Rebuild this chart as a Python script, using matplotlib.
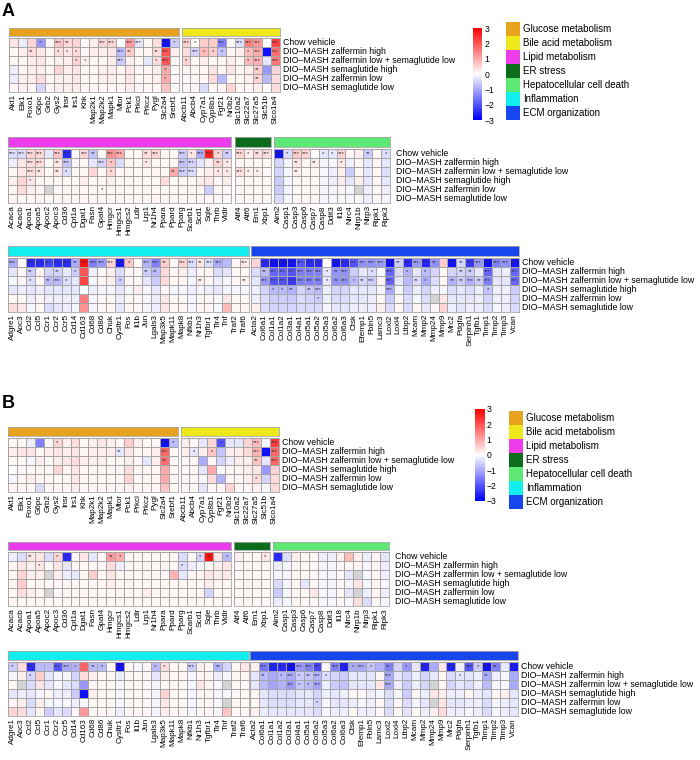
import numpy as np
import matplotlib
matplotlib.use("Agg")
import matplotlib.pyplot as plt
from matplotlib.colors import LinearSegmentedColormap
from matplotlib.patches import Rectangle

plt.rcParams['font.family'] = ['Liberation Sans', 'DejaVu Sans']
nan = np.nan

# ---- labels ----
rows = ["Chow vehicle", "DIO\u2013MASH zalfermin high",
        "DIO\u2013MASH zalfermin low + semaglutide low",
        "DIO\u2013MASH semaglutide high", "DIO\u2013MASH zalfermin low",
        "DIO\u2013MASH semaglutide low"]

glucose_genes = ["Akt1", "Elk1", "Foxo1", "G6pc", "Grb2", "Gys2", "Insr", "Irs1", "Khk", "Map2k1",
                 "Map2k2", "Mapk1", "Mtor", "Pck1", "Prkci", "Prkcz", "Pygl", "Slc2a4", "Srebf1"]
bile_genes = ["Abcb11", "Abcb4", "Cyp7a1", "Cyp8b1", "Fgf21", "Nr0b2", "Slc10a2", "Slc22a7",
              "Slc27a5", "Slc51b", "Slco1a4"]
lipid_genes = ["Acaca", "Acacb", "Apoa1", "Apoa5", "Apoc2", "Apoc3", "Cd36", "Cpt1a", "Dgat1",
               "Fasn", "Gpat4", "Hmgcr", "Hmgcs1", "Hmgcs2", "Ldlr", "Lrp1", "Nr1h4", "Ppara",
               "Ppard", "Pparg", "Scarb1", "Scd1", "Sqle", "Thrb", "Vldlr"]
er_genes = ["Atf4", "Atf6", "Ern1", "Xbp1"]
hep_genes = ["Aim2", "Casp1", "Casp3", "Casp6", "Casp7", "Casp8", "Ddit3", "Il18", "Nlrc4",
             "Nlrp1b", "Nlrp3", "Ripk1", "Ripk3"]
inflam_genes = ["Adgre1", "Aoc3", "Ccl2", "Ccl5", "Ccr1", "Ccr2", "Ccr5", "Cd14", "Cd163", "Cd68",
                "Cd86", "Chuk", "Cysltr1", "Fos", "Il1b", "Jun", "Lgals3", "Map3k5", "Mapk11",
                "Mapk8", "Nfkb1", "Nr1h3", "Tgfbr1", "Tlr4", "Tnf", "Traf2", "Traf6"]
ecm_genes = ["Acta2", "Col6a1", "Col1a1", "Col1a2", "Col3a1", "Col4a1", "Col5a1", "Col5a2",
             "Col5a3", "Col6a2", "Col6a3", "Ctsk", "Efemp1", "Fbln5", "Lamc3", "Loxl2", "Loxl4",
             "Ltbp2", "Mcam", "Mmp2", "Mmp24", "Mmp9", "Mrc2", "Pdgfa", "Serpinh1", "Tgfb1",
             "Timp1", "Timp2", "Timp3", "Vcan"]

categories = ["Glucose metabolism", "Bile acid metabolism", "Lipid metabolism", "ER stress",
              "Hepatocellular cell death", "Inflammation", "ECM organization"]
cat_colors = ["#E8A31E", "#EEE81A", "#EC3CEC", "#0D6B1C", "#5EE874", "#12EEEE", "#1746EE"]

# ---- panel A values (z-scores) ----
A_glucose = [
    [0.3, -0.2, 0.5, -1.2, 0.1, 0.7, 0.5, 0.5, 0.1, 0.2, 0.5, 0.5, 0.0, 1.2, -0.3, 0.1, 0.4, -2.8, -0.6],
    [0.1, 0.2, 0.4, 0.3, 0.1, 0.4, 0.3, 0.4, 0.1, 0.2, 0.2, 0.3, -0.8, 0.6, 0.1, 0.1, 0.4, 2.0, 0.2],
    [0.1, 0.1, 0.2, 0.3, 0.1, 0.2, 0.2, 0.5, 0.2, 0.1, 0.1, 0.2, -0.6, 0.2, 0.1, -0.3, 0.4, 2.0, 0.1],
    [-0.2, 0.1, 0.2, 0.2, 0.1, 0.5, 0.2, 0.3, 0.1, 0.1, 0.2, 0.2, 0.1, 0.3, 0.1, 0.1, 0.2, 1.0, 0.1],
    [-0.2, 0.2, 0.2, 0.4, 0.1, 0.2, 0.2, 0.3, 0.1, 0.1, 0.2, 0.2, 0.1, 0.3, 0.1, 0.1, 0.2, 1.0, 0.1],
    [0.1, 0.2, 0.1, -0.5, 0.1, 0.2, 0.2, 0.2, 0.1, 0.1, 0.1, 0.1, 0.1, 0.2, 0.1, 0.1, 0.1, 0.7, 0.1],
]
A_glucose_sig = [
    ". . . * . *** ** . . . *** *** . *** *** . . *** *",
    ". . ** . . * * * . . . . *** ** . . ** *** .",
    ". . . . . . . * * . . . *** . . . * *** .",
    ". . . . . . . . . . . . . . . . . * .",
    ". . . . . . . . . . . . . . . . . * .",
    ". . . . . . . . . . . . . . . . . . .",
]
A_bile = [
    [0.6, 0.05, 0.6, 0.6, -1.5, 0.1, -0.4, 1.5, 1.2, 0.05, 2.2],
    [0.4, -0.5, 0.8, 0.6, -0.7, 0.1, 0.2, 0.8, 1.0, -2.8, 1.7],
    [0.5, 0.1, 0.2, 0.1, 0.1, 0.2, 0.1, 0.8, 0.9, -0.3, 1.6],
    [0.1, 0.1, 0.1, 0.3, 0.1, 0.3, 0.1, 0.2, 0.6, -1.2, 0.5],
    [0.1, 0.1, 0.1, 0.4, -0.8, 0.1, 0.1, 0.2, 0.5, -0.8, 0.4],
    [0.1, 0.1, -0.4, 0.1, 0.1, 0.5, 0.1, 0.1, 0.2, 0.0, 0.4],
]
A_bile_sig = [
    "*** * . . *** . *** *** *** . ***",
    ". *** * * * . . * *** . ***",
    "* . . . . . . * *** . ***",
    ". . . . . . . . ** . .",
    ". . . . . . . . ** . .",
    ". . . . . . . . . . .",
]
A_lipid = [
    [-0.4, -0.4, 0.5, 0.5, -0.3, 0.7, -2.5, 0.1, 0.5, -0.7, 0.1, 1.3, 1.0, 0.1, 0.1, 0.4, 0.5, 0.1, 0.1, -0.6, 0.3, -1.0, 2.6, 0.5, -0.6],
    [-0.2, 0.3, 0.4, 0.4, 0.1, 0.3, -0.7, 0.1, 0.1, -0.3, -0.5, 0.7, -0.4, 0.1, 0.1, 0.3, 0.1, 0.1, 0.1, -0.7, -0.5, -0.3, 0.2, 0.5, 0.3],
    [0.1, 0.3, 0.4, 0.3, 0.1, 0.3, -0.4, 0.1, 0.1, 0.5, 0.1, 0.5, 0.1, 0.1, 0.1, 0.1, 0.1, 0.1, 1.0, -0.6, -0.4, 0.1, 0.2, 0.3, 0.3],
    [0.2, 0.5, 0.3, 0.1, 0.1, 0.1, 0.1, 0.1, 0.2, 0.1, 0.1, 0.2, 0.1, 0.1, 0.1, 0.1, 0.1, 0.4, 0.1, 0.1, 0.1, 0.2, 0.3, 0.1, 0.2],
    [0.1, 0.4, 0.2, 0.1, nan, 0.1, 0.1, 0.1, 0.1, 0.1, 0.1, 0.1, 0.1, 0.1, 0.1, 0.1, 0.1, 0.1, 0.1, 0.1, 0.1, 0.1, -0.6, 0.1, 0.1],
    [0.1, 0.1, 0.1, 0.1, 0.1, 0.1, 0.1, 0.1, 0.1, 0.1, 0.1, 0.1, 0.1, 0.1, 0.1, 0.1, 0.1, 0.1, 0.1, 0.1, 0.1, 0.1, 0.1, 0.1, 0.1],
]
A_lipid_sig = [
    "*** *** *** *** . *** *** . *** ** . *** *** . . ** *** . . *** * *** *** * **",
    ". . *** *** . ** *** . . . *** * . . . * . . . *** *** . . ** *",
    ". . *** ** . ** * . . . . * . . . . . . ** *** *** . . * *",
    ". . * . . . . . . . . . . . . . . . . . . . . . .",
    ". . . . . . . . . . * . . . . . . . . . . . . . .",
    ". . . . . . . . . . . . . . . . . . . . . . . . .",
]
A_er = [
    [0.5, 0.2, 0.4, 0.4],
    [0.1, 0.1, 0.1, 0.1],
    [0.4, 0.2, 0.2, 0.1],
    [0.1, 0.1, 0.1, 0.1],
    [0.1, 0.1, 0.1, 0.1],
    [0.1, 0.1, 0.1, 0.1],
]
A_er_sig = ["*** * ** ***", ". . . .", "*** * * .", ". . . .", ". . . .", ". . . ."]
A_hep = [
    [-2.8, -0.4, 0.6, 0.5, 0.0, -0.3, -0.3, 0.5, 0.1, 0.2, -0.6, 0.1, -0.4],
    [-0.5, -0.1, 0.3, 0.1, 0.2, -0.1, -0.1, 0.3, -0.2, 0.1, -0.3, 0.1, -0.3],
    [-0.5, -0.1, 0.2, 0.1, 0.1, -0.1, -0.2, 0.2, -0.6, 0.1, -0.3, 0.1, -0.4],
    [-0.6, -0.1, 0.1, 0.1, 0.1, -0.1, -0.2, 0.2, -0.3, 0.2, -0.3, 0.1, -0.3],
    [-0.6, -0.1, 0.1, 0.1, 0.1, -0.1, -0.1, 0.1, -0.1, nan, -0.2, 0.1, -0.2],
    [-0.4, -0.1, 0.1, 0.1, 0.1, -0.1, -0.1, 0.1, -0.1, 0.1, -0.2, 0.1, -0.1],
]
A_hep_sig = [
    "*** * *** *** . * * *** . . ** . *",
    ". . ** . ** . . * . . . . .",
    ". . ** . . . . . . . . . .",
    ". . . . . . . . . . . . .",
    ". . . . . . . . . . . . .",
    ". . . . . . . . . . . . .",
]
A_inflam = [
    [-1.0, 0.1, -2.5, -2.5, -2.2, -2.5, -2.5, -1.0, 2.8, -1.5, -1.2, 0.5, -2.7, 0.7, 0.1, -0.9, -1.5, 0.6, 0.1, 0.5, -0.4, 0.3, -0.4, -1.0, -0.8, 0.1, 0.3],
    [-0.3, 0.1, -0.6, 0.2, -0.5, -0.5, -0.3, -0.6, 2.0, -0.2, 0.1, 0.2, -0.4, 0.1, 0.1, -0.6, -0.8, 0.4, 0.1, 0.2, -0.2, 0.1, 0.1, -0.4, -0.3, 0.1, 0.1],
    [-0.1, 0.1, -0.4, 0.1, -0.8, -0.8, -0.4, -0.3, 2.2, -0.1, 0.1, 0.2, -0.6, 0.1, 0.1, -0.3, -0.6, 0.4, 0.1, 0.1, -0.1, 0.2, 0.1, -0.2, -0.1, 0.1, 0.2],
    [-0.3, -0.2, -0.3, -0.2, -0.3, -0.3, -0.3, -0.3, 0.0, -0.2, -0.1, -0.1, -0.3, -0.1, 0.2, -0.1, -0.3, 0.1, -0.1, -0.1, -0.2, -0.1, -0.2, -0.3, -0.1, -0.1, -0.1],
    [0.1, 0.1, -0.2, 0.1, -0.2, -0.2, -0.2, -0.2, 1.5, -0.1, 0.1, 0.1, -0.2, 0.1, 0.1, -0.1, -0.2, 0.3, 0.1, 0.1, -0.1, 0.1, 0.1, -0.1, 0.3, 0.1, 0.1],
    [0.4, 0.3, -0.1, 0.1, -0.4, -0.3, -0.2, -0.1, 1.3, -0.1, 0.1, 0.1, -0.3, 0.1, 0.1, -0.1, -0.2, 0.3, 0.1, 0.1, -0.1, 0.1, 0.1, -0.1, 0.8, 0.1, 0.1],
]
A_inflam_sig = [
    "*** . *** *** *** *** *** ** *** *** *** *** *** * . *** *** ** . *** *** ** *** *** . . ***",
    ". . ** . . ** . * . . . . . . . ** ** . . . . . . . . . .",
    ". . * . ** *** * . . . . . * . . . . . . . . ** . . . . **",
    ". . . . . . . . . . . . . . . . . . . . . . . . . . .",
    ". . . . . . . . . . . . . . . . . . . . . . . . . . .",
    ". . . . . . . . . . . . . . . . . . . . . . . . . . .",
]
A_ecm = [
    [0.5, -2.5, -2.8, -2.8, -2.8, -2.0, -2.5, -2.5, 0.0, -2.8, -2.5, -2.0, -1.3, -1.3, -1.2, -2.8, -0.6, -2.5, -1.2, -2.6, -1.3, 0.6, -2.8, -0.5, -2.3, -1.2, -2.8, -1.5, -1.3, -2.8],
    [-0.4, -0.8, -1.8, -1.8, -2.0, -1.5, -1.5, -1.5, -0.3, -1.3, -1.3, -0.6, -0.3, -0.4, -0.1, -1.8, -0.4, -0.9, -0.3, -0.8, -0.5, 0.1, -0.5, -0.5, -0.6, -0.3, -1.8, -0.3, -0.2, -1.8],
    [-0.3, -1.2, -2.0, -2.0, -2.3, -1.5, -1.5, -1.5, -0.3, -1.3, -1.3, -0.8, -0.5, -0.6, 0.15, -1.8, -0.3, -0.8, -0.4, -1.0, -0.4, 0.1, -0.9, -0.6, -0.9, -0.6, -1.5, -0.3, -0.3, -1.8],
    [-0.2, -0.5, -0.8, -0.8, -0.9, -0.5, -0.7, -0.8, -0.2, -0.5, -0.5, -0.3, -0.3, -0.3, -0.1, -1.0, -0.1, -0.6, -0.2, -0.5, -0.2, -0.1, -0.4, -0.3, -0.4, -0.2, -0.7, -0.2, -0.2, -0.6],
    [-0.2, -0.4, -0.6, -0.6, -0.6, -0.4, -0.5, -0.6, -0.2, -0.4, -0.4, -0.3, -0.3, -0.2, 0.1, -0.6, 0.1, -0.4, -0.1, -0.4, nan, 0.3, -0.3, -0.3, -0.3, -0.2, -0.5, -0.2, -0.2, -0.5],
    [0.2, -0.4, -0.5, -0.5, -0.5, -0.4, -0.4, -0.4, -0.1, -0.3, -0.3, -0.2, -0.2, -0.2, 0.2, -0.4, 0.1, -0.4, 0.1, -0.3, 0.1, 0.5, -0.2, -0.3, -0.2, -0.2, -0.4, -0.1, -0.2, -0.4],
]
A_ecm_sig = [
    ". *** *** *** *** *** *** *** . *** *** *** *** *** *** *** ** *** *** *** ** . *** ** *** *** *** *** *** ***",
    ". ** *** *** *** *** *** *** * ** *** . . * . *** . * . * . . . ** ** . *** . . ***",
    ". *** *** *** *** *** *** *** * ** *** * ** *** . *** . . ** * . . ** ** *** ** *** . . ***",
    ". . * * ** . ** *** . . . . . . . *** . . . . . . . . . . * . . .",
    ". . . . . . . * . . . . . . . . . . . . . . . . . . . . . .",
    ". . . . . . . . . . . . . . . . . . . . . . . . . . . . . .",
]

# ---- panel B values ----
B_glucose = [
    [0.1, 0.1, -0.2, -1.5, 0.1, 0.5, 0.2, 0.4, 0.1, 0.2, 0.3, 0.2, 0.1, 0.6, 0.2, 0.1, 0.1, -2.8, -0.8],
    [0.2, 0.3, 0.3, 0.1, 0.2, 0.3, 0.2, 0.3, 0.1, 0.2, 0.2, 0.2, -0.3, 0.3, 0.1, 0.1, 0.2, 1.8, 0.1],
    [0.1, 0.1, -0.1, 0.2, 0.1, 0.2, 0.3, 0.4, 0.2, 0.2, 0.2, 0.1, 0.1, 0.2, 0.1, -0.3, 0.2, 1.7, 0.1],
    [0.0, 0.1, 0.1, 0.1, 0.1, 0.5, 0.1, 0.3, 0.1, 0.1, 0.1, 0.1, 0.1, 0.4, 0.1, 0.1, 0.1, 1.0, 0.1],
    [-0.1, 0.1, 0.2, 0.1, 0.1, 0.1, 0.1, 0.3, 0.1, 0.1, 0.1, 0.1, 0.1, 0.5, 0.1, 0.1, 0.1, 1.0, 0.1],
    [0.1, 0.1, 0.1, -0.4, 0.1, 0.1, 0.1, 0.2, 0.1, 0.1, 0.1, 0.1, 0.1, 0.2, 0.1, 0.1, 0.1, 0.7, 0.1],
]
B_glucose_sig = [
    ". . . . . * . . . . . . . . . . . *** *",
    ". . . . . . . . . . . . ** . . . . *** .",
    ". . . . . . . . . . . . . . . . . ** .",
    ". . . . . . . . . . . . . . . . . . .",
    ". . . . . . . . . . . . . . . . . . .",
    ". . . . . . . . . . . . . . . . . . .",
]
B_bile = [
    [0.2, 0.1, -0.3, 0.5, -2.0, -0.3, -0.3, 0.5, 0.8, -0.1, 2.3],
    [0.2, -0.3, 0.2, 0.7, -0.7, 0.2, 0.2, 0.4, 0.9, -2.8, 1.8],
    [0.1, 0.1, -1.0, 0.1, -0.5, -0.2, 0.2, 0.2, 0.7, -0.3, 1.8],
    [0.1, 0.1, -0.3, 1.0, -0.1, 0.1, 0.1, 0.2, 0.3, -1.2, 0.5],
    [0.1, 0.1, -0.1, 0.4, -0.9, 0.1, 0.1, 0.2, 0.4, -0.5, 0.4],
    [0.1, 0.1, -0.3, 0.1, 0.1, 0.5, 0.1, 0.1, 0.2, -0.1, 0.4],
]
B_bile_sig = [
    ". . . . * . . . *** . ***",
    ". * . * . . . . *** * ***",
    ". . . . . . . . ** . ***",
    ". . . . . . . . . . .",
    ". . . . . . . . * . .",
    ". . . . . . . . . . .",
]
B_lipid = [
    [-0.2, -0.4, 0.3, 0.3, -0.4, 0.5, -2.5, 0.1, 0.3, -0.3, 0.1, 1.2, 1.0, 0.1, 0.1, 0.1, 0.1, 0.1, 0.1, -0.4, 0.1, -0.5, 2.8, 0.3, -0.8],
    [0.1, 0.3, 0.2, 0.3, 0.1, 0.3, -0.3, 0.1, 0.1, 0.1, 0.1, 0.4, -0.2, 0.1, 0.1, 0.1, 0.1, 0.1, 0.1, -0.4, -0.2, -0.1, 0.1, 0.2, 0.3],
    [0.1, 0.5, 0.2, 0.2, nan, 0.2, -0.2, -0.3, 0.1, 0.6, 0.1, 0.3, 0.1, 0.1, 0.1, 0.1, 0.1, 0.1, 0.9, -0.3, 0.1, 0.1, 0.3, 0.2, 0.3],
    [0.1, 0.6, 0.1, 0.1, 0.1, 0.1, 0.1, 0.1, 0.1, 0.1, 0.1, 0.2, 0.1, 0.1, 0.1, 0.1, 0.1, 0.1, 0.1, 0.1, 0.1, 0.1, 0.2, 0.1, 0.1],
    [0.1, 0.4, 0.2, 0.1, nan, 0.1, 0.1, 0.1, 0.1, 0.1, 0.1, 0.1, 0.1, 0.1, 0.1, 0.2, 0.1, 0.1, 0.1, 0.1, 0.1, 0.1, -0.5, 0.1, 0.1],
    [0.1, 0.1, 0.1, 0.1, 0.1, 0.1, 0.1, 0.1, 0.1, 0.1, 0.1, 0.1, 0.1, 0.1, 0.1, 0.1, 0.1, 0.1, 0.1, 0.1, 0.1, 0.1, 0.1, 0.1, 0.1],
]
B_lipid_sig = [
    ". . ** . . * * . . . . ** * . . . . . . . . * ** . *",
    ". . . * . . . . . . . . . . . . . . . * . . . . .",
    ". . . . . . . . . . . . . . . . . . . . . . . . .",
    ". . . . . . . . . . . . . . . . . . . . . . . . .",
    ". . . . . . . . . . . . . . . . . . . . . . . . .",
    ". . . . . . . . . . . . . . . . . . . . . . . . .",
]
B_er = [
    [0.2, 0.1, 0.1, 0.3],
    [0.1, 0.1, 0.1, 0.1],
    [0.1, 0.1, 0.1, 0.1],
    [0.1, 0.1, 0.1, 0.1],
    [0.1, 0.1, 0.1, 0.1],
    [0.1, 0.1, 0.1, 0.1],
]
B_er_sig = [". . . *", ". . . .", ". . . .", ". . . .", ". . . .", ". . . ."]
B_hep = [
    [-2.5, -0.4, 0.2, 0.1, 0.1, -0.2, -0.2, 0.2, 0.8, 0.2, -0.2, 0.1, -0.3],
    [-0.2, -0.1, 0.1, 0.1, 0.1, -0.1, -0.1, 0.1, 0.1, 0.1, -0.1, 0.1, -0.2],
    [-0.1, -0.1, 0.1, 0.1, 0.1, -0.1, -0.1, 0.1, -0.3, nan, -0.1, 0.1, -0.2],
    [-0.4, -0.1, 0.1, -0.3, 0.1, -0.1, -0.1, 0.1, -0.1, 0.3, -0.1, 0.1, -0.1],
    [-0.6, -0.1, 0.1, 0.1, 0.3, -0.1, -0.1, 0.1, -0.3, nan, -0.2, 0.1, -0.2],
    [-0.2, -0.1, 0.1, 0.1, 0.1, -0.1, -0.1, 0.1, -0.1, 0.4, -0.4, 0.1, -0.1],
]
B_hep_sig = [". . . . . . . . . . . . ."] * 6
B_inflam = [
    [-0.6, 0.4, -2.5, -0.8, -0.8, -2.0, -1.0, -0.9, 1.8, -0.8, -0.8, 0.1, -2.8, 0.1, -0.1, 0.1, -0.8, 0.4, 0.1, 0.1, -0.6, 0.2, 0.1, -0.9, -0.5, 0.1, 0.3],
    [-0.1, 0.2, -0.5, 0.6, -0.3, -0.1, -0.1, -0.5, 0.4, 0.2, 0.1, 0.1, -0.2, 0.1, 0.1, 0.1, -0.3, 0.2, 0.1, 0.1, -0.1, 0.1, 0.1, -0.2, -0.1, 0.1, 0.1],
    [0.1, nan, -0.4, 0.3, -0.3, -0.1, -0.3, -0.4, -1.2, 0.1, 0.1, 0.1, -0.1, 0.1, 0.1, 0.1, -0.1, 0.1, 0.1, 0.1, -0.1, 0.3, 0.1, -0.1, nan, 0.1, 0.1],
    [-0.3, -0.2, -0.3, -0.1, 0.1, -0.2, -0.2, -0.6, -2.8, 0.2, 0.1, 0.1, -0.1, 0.1, 0.1, 0.1, -0.1, 0.5, 0.1, 0.1, -0.1, 0.1, 0.1, -0.1, -0.1, 0.1, 0.1],
    [0.1, 0.2, -0.4, 0.2, -0.1, -0.1, -0.1, -0.2, -0.1, 0.1, 0.1, 0.1, -0.1, 0.1, 0.1, 0.1, -0.1, 0.3, 0.1, 0.1, -0.1, 0.1, 0.1, -0.1, nan, 0.1, 0.1],
    [0.5, 0.4, -0.3, 0.1, -0.6, -0.3, -0.4, 0.1, 1.2, 0.1, 0.1, 0.1, -0.2, 0.1, 0.1, 0.1, -0.1, 0.2, 0.1, 0.1, -0.1, 0.1, 0.1, -0.1, 0.7, 0.1, 0.1],
]
B_inflam_sig = [
    "* . *** . . *** *** * . ** * . *** . . . * * . . *** . . ** . . .",
    ". . * . . . . . . . . . . . . . . . . . . . . . . . .",
    ". . . . . . . . . . . . . . . . . . . . . . . . . . .",
    ". . . . . . . . . . . . . . . . . . . . . . . . . . .",
    ". . . . . . . . . . . . . . . . . . . . . . . . . . .",
    ". . . . . . . . . . . . . . . . . . . . . . . . . . .",
]
B_ecm = [
    [0.2, -1.6, -2.6, -2.5, -2.8, -1.2, -1.5, -2.2, -0.1, -1.5, -2.6, -1.0, -1.0, -0.7, -0.9, -1.5, -0.5, -1.2, -0.3, -2.6, -1.0, 0.3, -2.6, -0.2, -2.0, -0.6, -2.8, -1.5, -0.3, -2.7],
    [-0.3, -0.8, -1.0, -0.8, -1.0, -0.6, -0.7, -0.9, -0.4, -0.5, -0.6, -0.3, -0.3, -0.3, 0.1, -1.0, -0.3, -0.5, -0.2, -0.5, -0.3, 0.1, -0.4, -0.3, -0.3, -0.2, -1.0, -0.2, -0.1, -1.0],
    [-0.3, -0.8, -1.1, -0.9, -1.2, -0.7, -0.8, -1.1, -0.2, -0.6, -0.7, -0.3, -0.3, -0.3, 0.3, -1.0, -0.2, -0.6, -0.2, -0.5, nan, 0.1, -0.5, -0.3, -0.4, -0.2, -0.8, -0.1, -0.1, -1.0],
    [0.1, -0.3, -0.4, -0.4, -0.4, -0.3, -0.3, -0.5, -0.2, -0.3, -0.2, 0.1, 0.1, -0.2, -0.1, -0.4, -0.1, -0.6, 0.1, -0.2, 0.3, 0.2, -0.2, -0.2, 0.1, -0.2, -0.3, 0.1, 0.2, -0.3],
    [0.1, -0.3, -0.4, -0.4, -0.4, -0.3, -0.3, -0.5, -0.1, -0.3, -0.3, -0.2, -0.1, -0.2, 0.1, -0.4, 0.1, -0.4, -0.1, -0.3, nan, 0.3, -0.3, -0.3, -0.2, -0.2, -0.4, -0.1, -0.2, -0.3],
    [0.2, -0.2, -0.3, -0.3, -0.3, -0.3, -0.3, -0.4, -0.1, -0.2, -0.2, 0.1, -0.2, -0.2, 0.1, -0.4, 0.1, -0.3, 0.1, -0.2, 0.2, 0.4, -0.2, -0.2, -0.1, -0.2, -0.4, -0.1, -0.2, -0.3],
]
B_ecm_sig = [
    ". *** *** *** *** *** *** *** . *** *** * *** * . ** . * . *** . . *** . *** * *** ** . **",
    ". ** . * *** * ** *** * . . . . . . *** . . . . . . . * . . ** . . .",
    ". . . . *** * * *** . . . . . . . *** . . . . . . . . . . . . . .",
    ". . . . . . . . . . . . . . . . . . . . . . . . . . . . . .",
    ". . . . . . . * . . . . . . . . . . . . . . . . . . . . . .",
    ". . . . . . . . . . . . . . . . . . . . . . . . . . . . . .",
]

# ---- drawing ----
W, H = 700, 760
fig = plt.figure(figsize=(7, 7.6), dpi=100)
cmap = LinearSegmentedColormap.from_list("bwr3", ["#0000FF", "#FFFFFF", "#FF0000"])
cmap.set_bad("#D3D3D3")
grid = "#A6A6A6"
CW = 8.93
FS = 5.9


def ax_px(x, y, w, h):
    return fig.add_axes([x / W, 1 - (y + h) / H, w / W, h / H])


def block(x, ybar, yheat, vals, sig, genes, color):
    vals = np.ma.masked_invalid(np.array(vals, dtype=float))
    nr, nc = vals.shape
    w = nc * CW
    bar = ax_px(x, ybar, w, yheat - ybar - 2)
    bar.set_facecolor(color)
    bar.set_xticks([]); bar.set_yticks([])
    for s in bar.spines.values():
        s.set_color(grid); s.set_linewidth(0.6)
    ax = ax_px(x, yheat, w, 54)
    ax.pcolormesh(vals, cmap=cmap, vmin=-3, vmax=3, edgecolors=grid, linewidth=0.6)
    ax.set_xlim(0, nc); ax.set_ylim(nr, 0)
    for s in ax.spines.values():
        s.set_color(grid); s.set_linewidth(0.6)
    ax.set_yticks([])
    ax.set_xticks(np.arange(nc) + 0.5, genes, rotation=90, fontsize=FS)
    ax.tick_params(axis='x', length=0, pad=1.5)
    for i, line in enumerate(sig):
        for j, s in enumerate(line.split()):
            if s != ".":
                ax.text(j + 0.5, i + 0.52, s, ha='center', va='center', fontsize=4.2,
                        color='#333333')
    return x + w


def row_labels(x, yheat):
    for i, r in enumerate(rows):
        fig.text(x / W, 1 - (yheat + 9 * i + 4.5) / H, r, fontsize=FS + 0.4,
                 va='center', ha='left')


def legend(xcb, ycb, xcat, ycat):
    cb = ax_px(xcb, ycb, 9, 92)
    grad = np.linspace(3, -3, 200).reshape(-1, 1)
    cb.imshow(grad, cmap=cmap, vmin=-3, vmax=3, aspect='auto', extent=[0, 1, -3, 3])
    cb.set_xticks([])
    cb.yaxis.tick_right()
    cb.set_yticks([3, 2, 1, 0, -1, -2, -3], ["3", "2", "1", "0", "\u22121", "\u22122", "\u22123"],
                  fontsize=6.2)
    cb.tick_params(axis='y', length=0, pad=2)
    for s in cb.spines.values():
        s.set_visible(False)
    for k, (c, lab) in enumerate(zip(cat_colors, categories)):
        y = ycat + 14 * k
        fig.patches.append(Rectangle((xcat / W, 1 - (y + 14) / H), 14 / W, 14 / H,
                                     transform=fig.transFigure, facecolor=c, edgecolor='none'))
        fig.text((xcat + 17) / W, 1 - (y + 7) / H, lab, fontsize=7, va='center', ha='left')


groups = [
    ("A", [A_glucose, A_bile, A_lipid, A_er, A_hep, A_inflam, A_ecm],
     [A_glucose_sig, A_bile_sig, A_lipid_sig, A_er_sig, A_hep_sig, A_inflam_sig, A_ecm_sig]),
    ("B", [B_glucose, B_bile, B_lipid, B_er, B_hep, B_inflam, B_ecm],
     [B_glucose_sig, B_bile_sig, B_lipid_sig, B_er_sig, B_hep_sig, B_inflam_sig, B_ecm_sig]),
]
gene_sets = [glucose_genes, bile_genes, lipid_genes, er_genes, hep_genes, inflam_genes, ecm_genes]

# layout in pixels per panel
layout = {
    "A": dict(letter=(2, 12), rowy=[(28, 38), (137, 149), (246, 258)],
              xs=[9, 181.5, 8, 235, 274, 8, 251], labx=[283, 396, 522],
              legend=(473, 28, 506, 22)),
    "B": dict(letter=(2, 403), rowy=[(427, 438), (542, 552), (651, 662)],
              xs=[8, 180.5, 8, 234, 273, 8, 250], labx=[282, 395, 521],
              legend=(475, 409, 509, 411)),
}
row_of = [0, 0, 1, 1, 1, 2, 2]

for name, vals_list, sig_list in groups:
    L = layout[name]
    fig.text(L["letter"][0] / W, 1 - L["letter"][1] / H, name, fontsize=13,
             fontweight='bold', va='center', ha='left')
    for k in range(7):
        ybar, yheat = L["rowy"][row_of[k]]
        block(L["xs"][k], ybar, yheat, vals_list[k], sig_list[k], gene_sets[k], cat_colors[k])
    for r in range(3):
        row_labels(L["labx"][r], L["rowy"][r][1])
    legend(*L["legend"])

fig.savefig("out.png", dpi=100)
